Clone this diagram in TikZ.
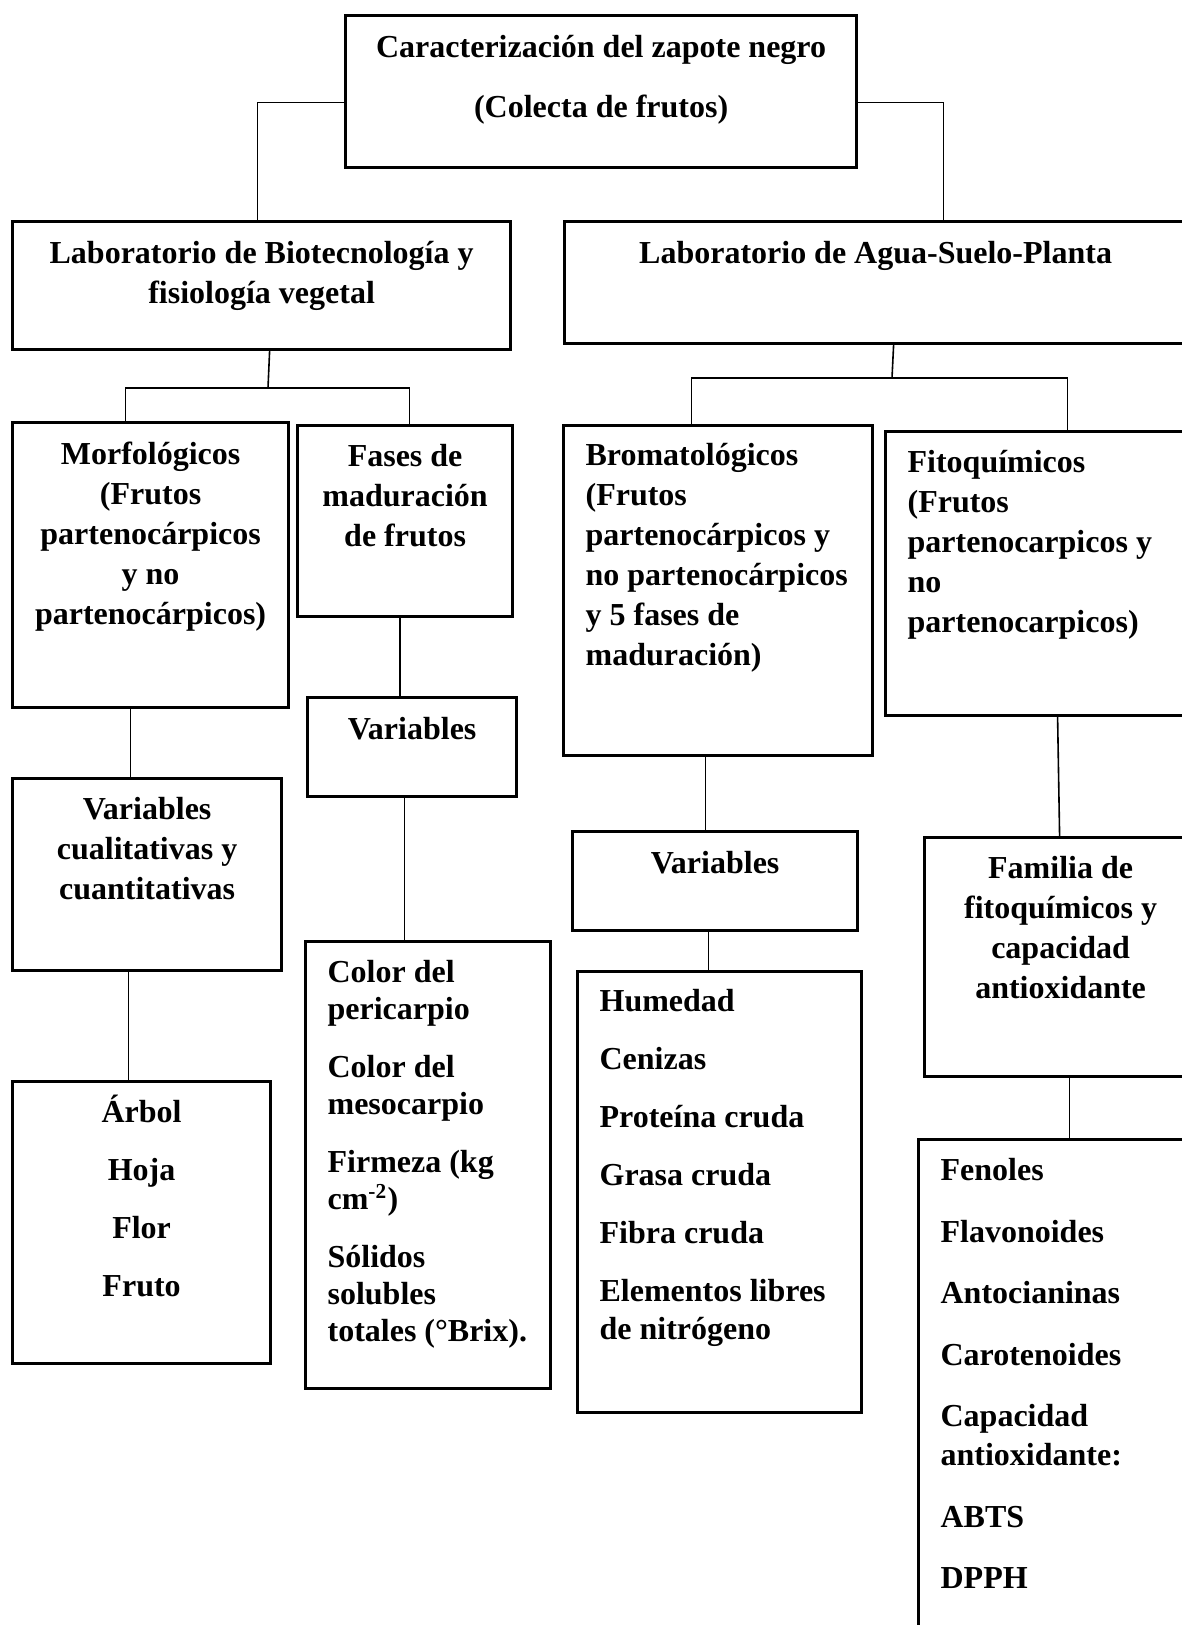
\documentclass[tikz,border=0pt]{standalone}
\usepackage{fontspec}
\setmainfont{Liberation Serif}
\usepackage{tikz}
\usetikzlibrary{calc}

\newlength{\pxu}
\setlength{\pxu}{0.375pt}
% texto de una caja: ancho, alto, primera linea base, interlineado, alineacion, texto
\newcommand{\cajatxt}[6]{\parbox[t][#2\pxu][t]{#1\pxu}{#5\setlength{\baselineskip}{#4\pxu}\rule{0pt}{#3\pxu}#6}}
\newcommand{\izq}{\raggedright\leftskip=22\pxu}

\tikzset{
  caja/.style={draw, line width=1.2pt, inner sep=0pt, anchor=north west,
    font=\fontsize{12}{15}\selectfont\bfseries},
  conector/.style={line width=0.6pt},
}

\begin{document}
\begin{tikzpicture}[x=0.375pt, y=-0.375pt]
        % Fix the page size
        \useasboundingbox (0,0) rectangle (1182,1625);
        \clip (0,0) rectangle (1182,1625);

        % Draw the first two levels
        \node[caja] (top) at (344,14) {\cajatxt{511}{152}{42}{60}{\centering}{Caracterización del zapote negro\\(Colecta de frutos)}};
        \node[caja] (lab1) at (11,220) {\cajatxt{498}{128}{42}{40}{\centering}{Laboratorio de Biotecnología y\\fisiología vegetal}};
        \node[caja] (lab2) at (563,220) {\cajatxt{622}{122}{42}{40}{\centering}{Laboratorio de Agua-Suelo-Planta}};

        % Draw the left branch
        \node[caja] (morf) at (11,421) {\cajatxt{276}{285}{42}{40}{\centering}{Morfológicos\\(Frutos\\partenocárpicos\\y no\\partenocárpicos)}};
        \node[caja] (fases) at (296,424) {\cajatxt{215}{191}{41}{40}{\centering}{Fases de\\maduración\\de frutos}};
        \node[caja] (var1) at (306,696) {\cajatxt{209}{99}{42}{40}{\centering}{Variables}};
        \node[caja] (varcual) at (11,777) {\cajatxt{269}{192}{41}{40}{\centering}{Variables\\cualitativas y\\cuantitativas}};
        \node[caja] (arbol) at (11,1080) {\cajatxt{258}{282}{41}{58}{\centering}{Árbol\\Hoja\\Flor\\Fruto}};
        \node[caja] (color) at (304,940) {\cajatxt{245}{447}{41}{37}{\izq}{Color del\\pericarpio\\[21\pxu]Color del\\mesocarpio\\[21\pxu]Firmeza (kg\\cm\textsuperscript{-2})\\[21\pxu]Sólidos\\solubles\\totales (°Brix).}};

        % Draw the right branch
        \node[caja] (bromat) at (562,424) {\cajatxt{309}{330}{40}{40}{\izq}{Bromatológicos\\(Frutos\\partenocárpicos y\\no partenocárpicos\\y 5 fases de\\maduración)}};
        \node[caja] (fito) at (884,430) {\cajatxt{311}{284}{41}{40}{\izq}{Fitoquímicos\\(Frutos\\partenocarpicos y\\no\\partenocarpicos)}};
        \node[caja] (var2) at (571,830) {\cajatxt{285}{99}{42}{40}{\centering}{Variables}};
        \node[caja] (humedad) at (576,970) {\cajatxt{284}{441}{40}{38}{\izq}{Humedad\\[20\pxu]Cenizas\\[20\pxu]Proteína cruda\\[20\pxu]Grasa cruda\\[20\pxu]Fibra cruda\\[20\pxu]Elementos libres\\de nitrógeno}};
        \node[caja] (familia) at (923,836) {\cajatxt{272}{239}{41}{40}{\centering}{Familia de\\fitoquímicos y\\capacidad\\antioxidante}};
        \node[caja] (fenoles) at (917,1138) {\cajatxt{280}{510}{41}{39}{\izq}{Fenoles\\[22.5\pxu]Flavonoides\\[22.5\pxu]Antocianinas\\[22.5\pxu]Carotenoides\\[22.5\pxu]Capacidad\\antioxidante:\\[22.5\pxu]ABTS\\[22.5\pxu]DPPH}};

        % Branch points
        \coordinate (rama1) at (268,388);
        \coordinate (rama2) at (892,378);

        % Connect the boxes
        \draw[conector] ([yshift=-11\pxu]top.west) -| ([xshift=-4\pxu]lab1.north);
        \draw[conector] ([yshift=-11\pxu]top.east) -| ([xshift=68\pxu]lab2.north);
        \draw[conector] ([xshift=8\pxu]lab1.south) -- (rama1);
        \draw[conector] (rama1) -| ([xshift=-25\pxu]morf.north);
        \draw[conector] (rama1) -| ([xshift=4.5\pxu]fases.north);
        \draw[conector] ([xshift=18\pxu]lab2.south) -- (rama2);
        \draw[conector] (rama2) -| ([xshift=-26.5\pxu]bromat.north);
        \draw[conector] (rama2) -| ([xshift=26.5\pxu]fito.north);
        \draw[conector] ([xshift=-20\pxu]morf.south) -- ([xshift=-16.5\pxu]varcual.north);
        \draw[conector] ([xshift=-18.5\pxu]varcual.south) -- ([xshift=-13\pxu]arbol.north);
        \draw[conector] ([xshift=-5\pxu]fases.south) -- ([xshift=-12\pxu]var1.north);
        \draw[conector] ([xshift=-7.5\pxu]var1.south) -- ([xshift=-23.5\pxu]color.north);
        \draw[conector] ([xshift=-12.5\pxu]bromat.south) -- ([xshift=-9.5\pxu]var2.north);
        \draw[conector] ([xshift=-6.5\pxu]var2.south) -- ([xshift=-11\pxu]humedad.north);
        \draw[conector] ([xshift=16.5\pxu]fito.south) -- ([xshift=-1\pxu]familia.north);
        \draw[conector] ([xshift=9\pxu]familia.south) -- ([xshift=11\pxu]fenoles.north);
\end{tikzpicture}
\end{document}
